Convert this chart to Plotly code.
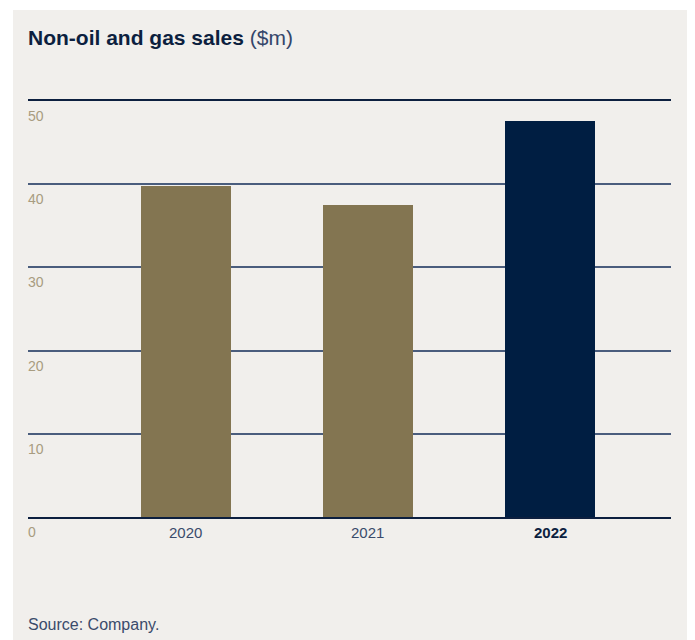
import plotly.graph_objects as go

# Data
years = ["2020", "2021", "2022"]
sales = [39.8, 37.5, 47.6]
bar_colors = ["#837551", "#837551", "#001e42"]
y_ticks = [0, 10, 20, 30, 40, 50]

W, H = 695, 640
L, R, T, B = 28, 24, 101, 123
plot_w = W - L - R
plot_h = H - T - B

x_pos = list(range(len(years)))

fig = go.Figure()
fig.add_trace(go.Bar(
    x=x_pos, y=sales, width=0.493,
    marker=dict(color=bar_colors, line=dict(width=0)),
    hoverinfo="skip",
))

# beige panel behind the chart (page coordinates converted to paper units)
def px_x(px):
    return (px - L) / plot_w

def px_y(py):
    return 1 - (py - T) / plot_h

fig.add_shape(type="rect", xref="paper", yref="paper",
              x0=px_x(13), x1=px_x(687), y0=px_y(640), y1=px_y(10),
              fillcolor="#f1efec", line=dict(width=0), layer="below")

FONT = "Liberation Sans, Arial"

# y tick labels sit just under each gridline
annotations = []
for v in y_ticks:
    annotations.append(dict(
        x=px_x(26), xref="paper", y=v, yref="y", text=str(v),
        showarrow=False, xanchor="left", yanchor="top", yshift=-5,
        font=dict(family=FONT, size=14, color="#a89c80"),
    ))

# category labels under the bars
for i, yr in enumerate(years):
    last = i == len(years) - 1
    annotations.append(dict(
        x=x_pos[i], xref="x", y=0, yref="y",
        text=f"<b>{yr}</b>" if last else yr,
        showarrow=False, xanchor="center", yanchor="top", yshift=-5,
        font=dict(family=FONT, size=15,
                  color="#0c1f3f" if last else "#3a4b6b"),
    ))

annotations.append(dict(
    x=px_x(26), xref="paper", y=px_y(37), yref="paper",
    text="<b>Non-oil and gas sales</b> <span style='color:#34466a'>($m)</span>",
    showarrow=False, xanchor="left", yanchor="middle",
    font=dict(family=FONT, size=21, color="#0c1f3f"),
))
annotations.append(dict(
    x=px_x(26), xref="paper", y=px_y(624), yref="paper",
    text="Source: Company.",
    showarrow=False, xanchor="left", yanchor="middle",
    font=dict(family=FONT, size=16, color="#3a4b6b"),
))

fig.update_layout(
    width=W, height=H,
    margin=dict(l=L, r=R, t=T, b=B, pad=0),
    paper_bgcolor="white",
    plot_bgcolor="rgba(0,0,0,0)",
    showlegend=False,
    bargap=0,
    annotations=annotations,
    xaxis=dict(range=[-0.866, 2.663], showticklabels=False, showgrid=False,
               zeroline=False, showline=True, mirror=True,
               linecolor="#0c1f3f", linewidth=1.5, fixedrange=True),
    yaxis=dict(range=[0, 50], tickvals=y_ticks, showticklabels=False,
               showgrid=True, gridcolor="#4a5d7d", gridwidth=1.5,
               zeroline=False, showline=False, fixedrange=True),
)

fig.write_html("out.html")
